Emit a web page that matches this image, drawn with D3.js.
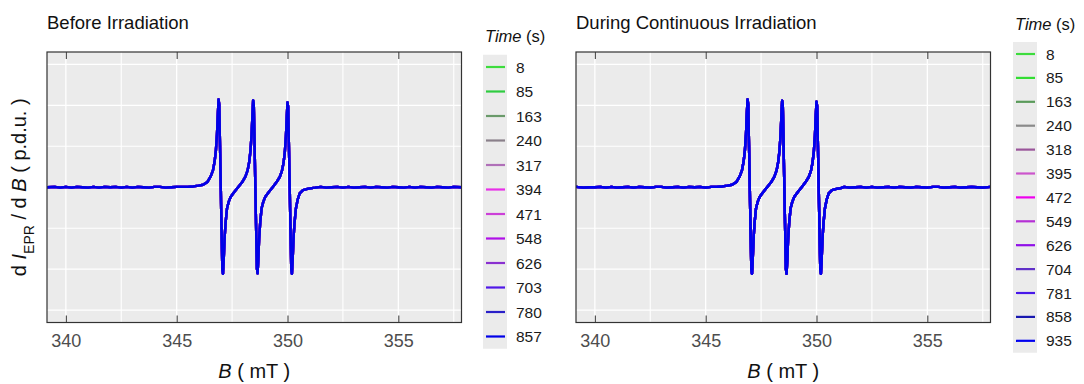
<!DOCTYPE html>
<meta charset="utf-8">

<!-- Load d3.js -->
<script src="https://d3js.org/d3.v7.min.js"></script>

<style>
  body { margin: 0; background: #fff; }
  text { font-family: "Liberation Sans", Arial, sans-serif; }
</style>

<!-- Create a div where the graph will take place -->
<div id="vis"></div>

<script>

// ---- data ----
// magnetic field (mT)
var fieldB = [
  339.15, 339.50, 339.75,
  340.00, 340.25, 340.50, 340.75, 341.00, 341.25, 341.50, 341.75, 342.00, 342.25, 342.50, 342.75,
  343.00, 343.25, 343.50, 343.75, 344.00, 344.25, 344.50, 344.75, 345.00, 345.25, 345.50, 345.75,
  345.99, 346.19, 346.39, 346.54, 346.64, 346.71, 346.77, 346.82, 346.86, 346.89, 346.92, 346.96,
  346.99, 347.02, 347.06, 347.09, 347.12, 347.16, 347.21, 347.27, 347.35, 347.44, 347.59, 347.77,
  347.95, 348.10, 348.20, 348.27, 348.33, 348.38, 348.42, 348.45, 348.48, 348.52,
  348.55, 348.58, 348.62, 348.65, 348.68, 348.72, 348.77, 348.83, 348.91, 349.00, 349.15, 349.33,
  349.50, 349.65, 349.75, 349.82, 349.88, 349.93, 349.97, 350.00, 350.03, 350.07,
  350.10, 350.13, 350.17, 350.20, 350.23, 350.27, 350.32, 350.38, 350.46, 350.55, 350.70, 350.90, 351.10,
  351.25, 351.50, 351.75, 352.00, 352.25, 352.50, 352.75, 353.00, 353.25, 353.50, 353.75, 354.00,
  354.25, 354.50, 354.75, 355.00, 355.25, 355.50, 355.75, 356.00, 356.25, 356.50, 356.75, 357.00,
  357.25, 357.50, 357.85
];

// dI/dB before irradiation (p.d.u.)
var signalBefore = [
  0.00, 0.01, -0.01,
  0.01, -0.01, 0.01, 0.00, -0.01, 0.01, -0.01, 0.01, 0.00, 0.01, -0.01, 0.01,
  -0.01, 0.01, 0.00, -0.01, 0.01, 0.01, -0.01, 0.00, 0.01, 0.01, 0.01, 0.02,
  0.04, 0.06, 0.13, 0.27, 0.42, 0.62, 0.90, 1.30, 1.80, 2.14, 2.02, 0.90,
  0.00, -0.90, -2.00, -2.11, -1.80, -1.25, -0.85, -0.52, -0.35, -0.23, -0.12, 0.00,
  0.12, 0.26, 0.41, 0.61, 0.89, 1.28, 1.78, 2.12, 2.00, 0.88,
  0.00, -0.88, -1.98, -2.10, -1.80, -1.25, -0.85, -0.52, -0.35, -0.23, -0.12, 0.00,
  0.12, 0.25, 0.40, 0.59, 0.86, 1.25, 1.74, 2.07, 1.96, 0.86,
  0.00, -0.88, -2.00, -2.11, -1.80, -1.25, -0.85, -0.52, -0.30, -0.15, -0.07, -0.04, -0.02,
  -0.01, 0.01, -0.01, 0.00, 0.01, -0.01, 0.01, -0.01, 0.00, 0.01, -0.01, 0.01,
  0.00, -0.01, 0.01, 0.00, -0.01, 0.01, -0.01, 0.01, 0.00, -0.01, 0.01, 0.00,
  -0.01, 0.01, 0.00
];

// dI/dB during continuous irradiation (p.d.u.)
var signalDuring = [
  0.01, -0.01, 0.00,
  0.00, 0.01, -0.01, 0.01, -0.01, 0.00, 0.01, -0.01, 0.01, 0.00, -0.01, 0.01,
  0.01, -0.01, 0.00, 0.01, -0.01, 0.01, 0.00, 0.01, -0.01, 0.01, 0.01, 0.02,
  0.04, 0.06, 0.13, 0.27, 0.42, 0.62, 0.90, 1.30, 1.82, 2.14, 2.03, 0.90,
  0.00, -0.90, -2.00, -2.11, -1.80, -1.25, -0.85, -0.52, -0.35, -0.23, -0.12, 0.00,
  0.12, 0.26, 0.41, 0.61, 0.89, 1.28, 1.78, 2.11, 2.00, 0.88,
  0.00, -0.88, -1.99, -2.11, -1.80, -1.25, -0.85, -0.52, -0.35, -0.23, -0.12, 0.00,
  0.12, 0.25, 0.40, 0.60, 0.87, 1.26, 1.76, 2.09, 1.97, 0.87,
  0.00, -0.88, -2.00, -2.11, -1.80, -1.25, -0.85, -0.52, -0.30, -0.15, -0.07, -0.04, -0.02,
  0.01, -0.01, 0.00, 0.01, -0.01, 0.01, -0.01, 0.00, 0.01, -0.01, 0.01, 0.00,
  -0.01, 0.01, 0.00, -0.01, 0.01, 0.01, -0.01, 0.00, 0.01, -0.01, 0.00, 0.01,
  0.00, -0.01, 0.01
];

// acquisition times (s) and their legend colours
var timesBefore = [8, 85, 163, 240, 317, 394, 471, 548, 626, 703, 780, 857];
var coloursBefore = ["#3ddc3d", "#2ecc40", "#6a9a6a", "#8a808a", "#b070b8", "#e830e8",
                     "#cc40d8", "#b010e8", "#8a30d0", "#5018e8", "#2a20c8", "#0000e8"];
var timesDuring = [8, 85, 163, 240, 318, 395, 472, 549, 626, 704, 781, 858, 935];
var coloursDuring = ["#3ddc3d", "#33dd33", "#5a9a5a", "#8a8a8a", "#9a559a", "#cc55cc",
                     "#ee00ee", "#b530d5", "#9010e8", "#6030c8", "#4818ea", "#1818b0", "#0000f0"];

var xTicks = [340, 345, 350, 355];
var xMinor = [342.5, 347.5, 352.5, 357.5];
var yGrid = [-3, -2, -1, 0, 1, 2, 3];

// ---- layout ----
var W = 1084, H = 384;

var svg = d3.select("#vis")
  .append("svg")
    .attr("width", W)
    .attr("height", H);

var panels = [
  {id: "before", title: "Before Irradiation", left: 47, signal: signalBefore, times: timesBefore, colours: coloursBefore,
   legendX: 483, legendTitleY: 42, firstRow: 67, rowH: 24.5},
  {id: "during", title: "During Continuous Irradiation", left: 576, signal: signalDuring, times: timesDuring, colours: coloursDuring,
   legendX: 1013, legendTitleY: 30, firstRow: 54, rowH: 23.9}
];

var panelW = 414.5, panelTop = 52, panelBottom = 322.5;

panels.forEach(function(p) {

  var g = svg.append("g");

  var x = d3.scaleLinear()
    .domain([339.15, 357.85])
    .range([p.left, p.left + panelW]);

  var y = d3.scaleLinear()
    .domain([-3.3, 3.3])
    .range([panelBottom, panelTop]);

  // clip the spectra to the panel
  svg.append("clipPath")
    .attr("id", "clip-" + p.id)
    .append("rect")
      .attr("x", p.left).attr("y", panelTop)
      .attr("width", panelW).attr("height", panelBottom - panelTop);

  // panel background
  g.append("rect")
    .attr("x", p.left).attr("y", panelTop)
    .attr("width", panelW).attr("height", panelBottom - panelTop)
    .attr("fill", "#ebebeb");

  // grid lines
  g.selectAll(".vminor").data(xMinor).enter().append("line")
    .attr("x1", d => x(d)).attr("x2", d => x(d))
    .attr("y1", panelTop).attr("y2", panelBottom)
    .attr("stroke", "#fff").attr("stroke-width", 1.1);
  g.selectAll(".vmajor").data(xTicks).enter().append("line")
    .attr("x1", d => x(d)).attr("x2", d => x(d))
    .attr("y1", panelTop).attr("y2", panelBottom)
    .attr("stroke", "#fff").attr("stroke-width", 1.3);
  g.selectAll(".hgrid").data(yGrid).enter().append("line")
    .attr("x1", p.left).attr("x2", p.left + panelW)
    .attr("y1", d => y(d)).attr("y2", d => y(d))
    .attr("stroke", "#fff").attr("stroke-width", 1.2);

  // spectra, earliest first so the last scan sits on top
  var line = d3.line()
    .x(function(d, i) { return x(fieldB[i]); })
    .y(function(d) { return y(d); });

  var spectra = g.append("g").attr("clip-path", "url(#clip-" + p.id + ")");
  p.times.forEach(function(t, k) {
    spectra.append("path")
      .datum(p.signal)
      .attr("d", line)
      .attr("fill", "none")
      .attr("stroke", p.colours[k])
      .attr("stroke-width", 2.4)
      .attr("stroke-linejoin", "round");
  });

  // panel border
  g.append("rect")
    .attr("x", p.left).attr("y", panelTop)
    .attr("width", panelW).attr("height", panelBottom - panelTop)
    .attr("fill", "none")
    .attr("stroke", "#333").attr("stroke-width", 1.2);

  // inward ticks on top and bottom
  var axB = d3.axisBottom(x).tickValues(xTicks).tickSize(-7).tickPadding(12).tickSizeOuter(0);
  var gb = g.append("g").attr("transform", "translate(0," + panelBottom + ")").call(axB);
  gb.select(".domain").remove();
  gb.selectAll(".tick line").attr("stroke", "#333");
  gb.selectAll(".tick text")
    .attr("fill", "#4d4d4d")
    .style("font-size", "18px")
    .style("font-family", "Liberation Sans, Arial, sans-serif");

  var axT = d3.axisTop(x).tickValues(xTicks).tickSize(-7).tickFormat("");
  var gt = g.append("g").attr("transform", "translate(0," + panelTop + ")").call(axT);
  gt.select(".domain").remove();
  gt.selectAll(".tick line").attr("stroke", "#333");

  // title
  g.append("text")
    .attr("x", p.left).attr("y", 29)
    .style("font-size", "18.5px")
    .attr("fill", "#111")
    .text(p.title);

  // x axis title
  var xt = g.append("text")
    .attr("x", p.left + panelW / 2).attr("y", 378)
    .attr("text-anchor", "middle")
    .style("font-size", "20px")
    .attr("fill", "#111");
  xt.append("tspan").style("font-style", "italic").text("B");
  xt.append("tspan").text(" ( mT )");

  // legend
  var lg = g.append("g");
  var lt = lg.append("text")
    .attr("x", p.legendX + 2).attr("y", p.legendTitleY)
    .style("font-size", "16.5px")
    .attr("fill", "#111");
  lt.append("tspan").style("font-style", "italic").text("Time");
  lt.append("tspan").text("  (s)");

  lg.append("rect")
    .attr("x", p.legendX)
    .attr("y", p.firstRow - p.rowH / 2)
    .attr("width", 24)
    .attr("height", p.rowH * p.times.length)
    .attr("fill", "#ebebeb");

  lg.selectAll(".key").data(p.times).enter().append("line")
    .attr("x1", p.legendX + 3).attr("x2", p.legendX + 22)
    .attr("y1", (d, i) => p.firstRow + i * p.rowH)
    .attr("y2", (d, i) => p.firstRow + i * p.rowH)
    .attr("stroke", (d, i) => p.colours[i])
    .attr("stroke-width", 2.2);

  lg.selectAll(".lab").data(p.times).enter().append("text")
    .attr("x", p.legendX + 33)
    .attr("y", (d, i) => p.firstRow + i * p.rowH)
    .attr("dy", "0.36em")
    .style("font-size", "15.5px")
    .attr("fill", "#1a1a1a")
    .text(d => d);
});

// y axis title (shared, left panel only)
var yt = svg.append("text")
  .attr("transform", "translate(26," + ((panelTop + panelBottom) / 2) + ") rotate(-90)")
  .attr("text-anchor", "middle")
  .style("font-size", "20px")
  .attr("fill", "#111");
yt.append("tspan").text("d ");
yt.append("tspan").style("font-style", "italic").text("I");
yt.append("tspan").attr("baseline-shift", "sub").style("font-size", "14px").text("EPR");
yt.append("tspan").text(" / d ");
yt.append("tspan").style("font-style", "italic").text("B");
yt.append("tspan").text(" ( p.d.u. )");

</script>
